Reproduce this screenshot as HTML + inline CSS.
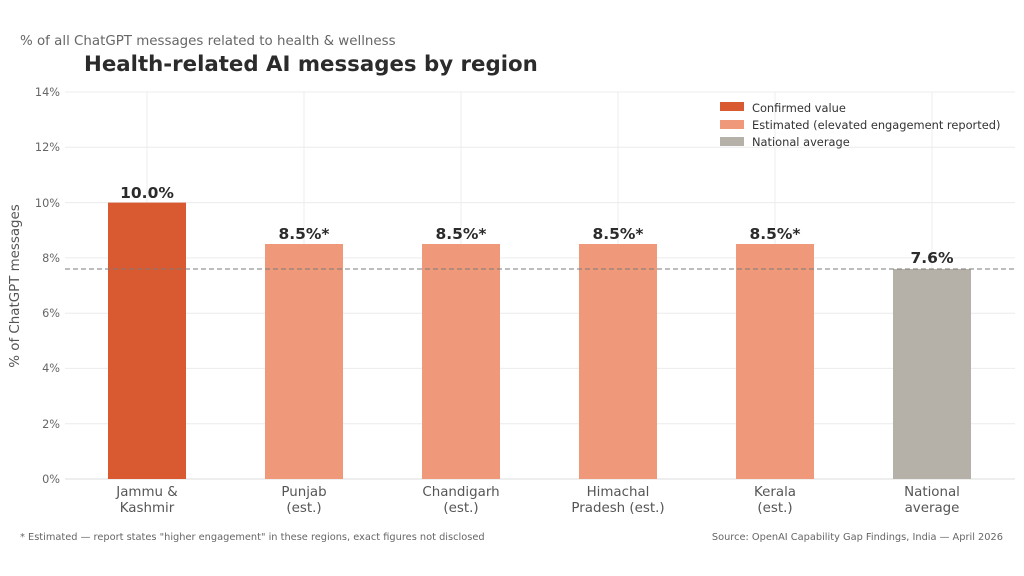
<!DOCTYPE html>
<html><head><meta charset="utf-8"><style>
html,body{margin:0;padding:0;background:#fff;}
svg{display:block;font-family:"DejaVu Sans","Liberation Sans",sans-serif;}
</style></head><body>
<svg width="1024" height="576" viewBox="0 0 1024 576" xmlns="http://www.w3.org/2000/svg">
<rect width="1024" height="576" fill="#fff"/>
<text x="20" y="45" font-size="13.4" fill="#666">% of all ChatGPT messages related to health &amp; wellness</text>
<text x="84" y="71" font-size="21.3" font-weight="bold" fill="#2b2b2b">Health-related AI messages by region</text>
<g stroke="#ececec" stroke-width="1">
<line x1="65" x2="1015" y1="92" y2="92"/>
<line x1="65" x2="1015" y1="147.3" y2="147.3"/>
<line x1="65" x2="1015" y1="202.6" y2="202.6"/>
<line x1="65" x2="1015" y1="257.9" y2="257.9"/>
<line x1="65" x2="1015" y1="313.2" y2="313.2"/>
<line x1="65" x2="1015" y1="368.4" y2="368.4"/>
<line x1="65" x2="1015" y1="423.7" y2="423.7"/>
<line x1="147" x2="147" y1="92" y2="479"/>
<line x1="304" x2="304" y1="92" y2="479"/>
<line x1="461" x2="461" y1="92" y2="479"/>
<line x1="618" x2="618" y1="92" y2="479"/>
<line x1="775" x2="775" y1="92" y2="479"/>
<line x1="932" x2="932" y1="92" y2="479"/>
</g>
<line x1="65" x2="1015" y1="479" y2="479" stroke="#ddd"/>
<g font-size="11.3" fill="#666" text-anchor="end">
<text x="60" y="96">14%</text><text x="60" y="151">12%</text><text x="60" y="207">10%</text>
<text x="60" y="262">8%</text><text x="60" y="317">6%</text><text x="60" y="372">4%</text>
<text x="60" y="428">2%</text><text x="60" y="483">0%</text>
</g>
<text transform="translate(19,286) rotate(-90)" font-size="13.4" fill="#555" text-anchor="middle">% of ChatGPT messages</text>
<rect x="108" y="202.6" width="78" height="276.4" fill="#d95a31"/>
<rect x="265" y="244" width="78" height="235" fill="#f0997a"/>
<rect x="422" y="244" width="78" height="235" fill="#f0997a"/>
<rect x="579" y="244" width="78" height="235" fill="#f0997a"/>
<rect x="736" y="244" width="78" height="235" fill="#f0997a"/>
<rect x="893" y="269" width="78" height="210" fill="#b5b1a8"/>
<line x1="65" x2="1015" y1="269" y2="269" stroke="#7a7a7a" stroke-dasharray="5,3" stroke-width="1"/>
<g font-size="15.5" font-weight="bold" fill="#2b2b2b" text-anchor="middle">
<text x="147" y="198">10.0%</text><text x="304" y="239">8.5%*</text><text x="461" y="239">8.5%*</text>
<text x="618" y="239">8.5%*</text><text x="775" y="239">8.5%*</text><text x="932" y="263">7.6%</text>
</g>
<g font-size="13.4" fill="#555" text-anchor="middle">
<text x="147" y="496">Jammu &amp;</text><text x="147" y="512">Kashmir</text>
<text x="304" y="496">Punjab</text><text x="304" y="512">(est.)</text>
<text x="461" y="496">Chandigarh</text><text x="461" y="512">(est.)</text>
<text x="618" y="496">Himachal</text><text x="618" y="512">Pradesh (est.)</text>
<text x="775" y="496">Kerala</text><text x="775" y="512">(est.)</text>
<text x="932" y="496">National</text><text x="932" y="512">average</text>
</g>
<rect x="720" y="102" width="24" height="9" fill="#d95a31"/>
<rect x="720" y="120" width="24" height="9" fill="#f0997a"/>
<rect x="720" y="137" width="24" height="9" fill="#b5b1a8"/>
<g font-size="11.4" fill="#333">
<text x="752" y="112">Confirmed value</text>
<text x="752" y="129">Estimated (elevated engagement reported)</text>
<text x="752" y="146">National average</text>
</g>
<text x="20" y="540" font-size="9.8" fill="#666">* Estimated — report states "higher engagement" in these regions, exact figures not disclosed</text>
<text x="1003" y="540" font-size="9.8" fill="#666" text-anchor="end">Source: OpenAI Capability Gap Findings, India — April 2026</text>
</svg>
</body></html>
